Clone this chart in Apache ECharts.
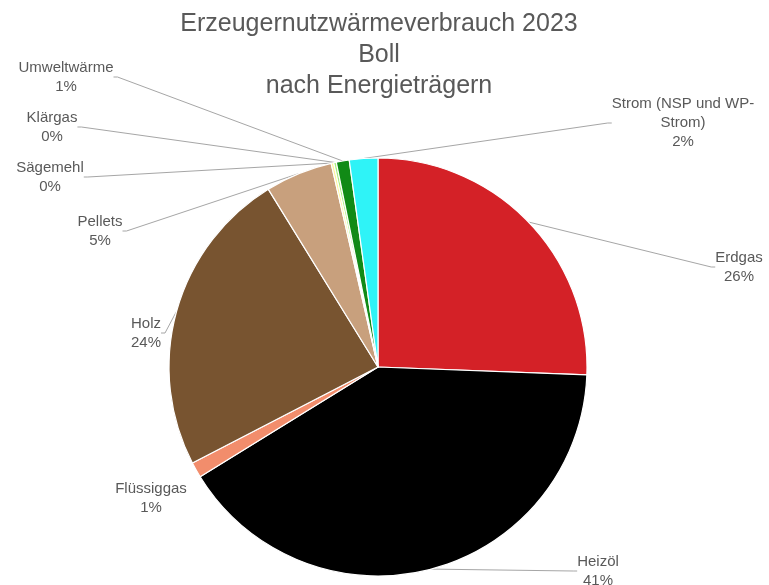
<!DOCTYPE html>
<html>
<head>
<meta charset="utf-8">
<script src="https://cdn.jsdelivr.net/npm/echarts@6/dist/echarts.min.js"></script>
<style>
  html, body { margin: 0; padding: 0; background: #ffffff; }
  #chart { width: 769px; height: 585px; }
</style>
</head>
<body>
<div id="chart"></div>
<script>
// Energy carriers, in drawing order (clockwise from 12 o'clock)
const categories = ['Erdgas', 'Heizöl', 'Flüssiggas', 'Holz', 'Pellets', 'Sägemehl', 'Klärgas', 'Umweltwärme', 'Strom (NSP und WP-Strom)'];
// Share of useful heat consumption, percent
const values = [25.6, 40.6, 1.2, 23.8, 5.2, 0.2, 0.2, 1.0, 2.2];

const sliceColors = ['#D42127', '#000000', '#F28D6C', '#785430', '#C8A07D', '#FFF59A', '#A8F07A', '#118A16', '#2FF3F7'];
// Label centres (px) for each slice label
const labelSpots = [[739, 267], [598, 571], [151, 498], [146, 333], [100, 231], [50, 177], [52, 127], [66, 77], [683, 123]];
// Labels sitting right next to their slice get no leader line
const noLeader = ['Flüssiggas'];

const chart = echarts.init(document.getElementById('chart'), null, { renderer: 'canvas' });

chart.setOption({
  backgroundColor: '#ffffff',
  animation: false,
  title: {
    text: 'Erzeugernutzwärmeverbrauch 2023\nBoll\nnach Energieträgern',
    left: 379,
    top: 0,
    textAlign: 'center',
    padding: [9, 0, 0, 0],
    textStyle: {
      fontFamily: 'Liberation Sans, Arial, sans-serif',
      fontSize: 25,
      fontWeight: 'normal',
      color: '#595959',
      lineHeight: 31
    }
  },
  series: [{
    type: 'pie',
    center: [378, 367],
    radius: 209,
    startAngle: 90,
    clockwise: true,
    percentPrecision: 0,
    avoidLabelOverlap: false,
    emphasis: { disabled: true },
    itemStyle: { borderColor: '#ffffff', borderWidth: 1.2 },
    label: {
      show: true,
      position: 'outside',
      fontFamily: 'Liberation Sans, Arial, sans-serif',
      fontSize: 15,
      lineHeight: 19,
      color: '#595959',
      align: 'center',
      formatter: p => p.name.replace('WP-', 'WP-\n') + '\n' + p.percent + '%'
    },
    labelLine: {
      show: true,
      length: 10,
      length2: 4,
      lineStyle: { color: '#a6a6a6', width: 1 }
    },
    labelLayout: params => ({
      x: labelSpots[params.dataIndex][0],
      y: labelSpots[params.dataIndex][1],
      align: 'center',
      verticalAlign: 'middle'
    }),
    data: categories.map((name, i) => ({
      name: name,
      value: values[i],
      itemStyle: { color: sliceColors[i] },
      labelLine: { show: noLeader.indexOf(name) < 0 }
    }))
  }]
});
</script>
</body>
</html>
